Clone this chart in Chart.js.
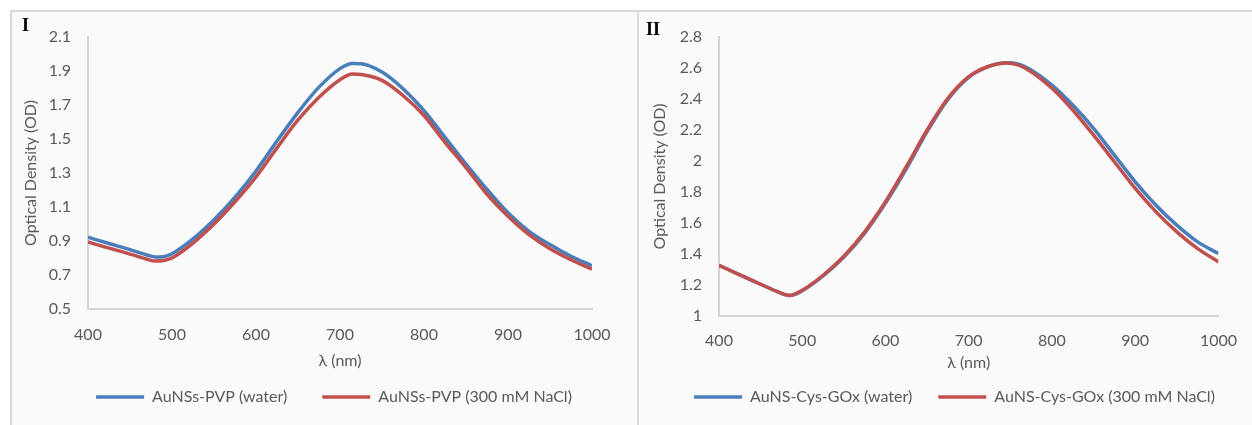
<!DOCTYPE html>
<html>
<head>
<meta charset="utf-8">
<script src="https://cdn.jsdelivr.net/npm/chart.js@4.4.1/dist/chart.umd.min.js"></script>
<style>
  html, body { margin: 0; padding: 0; background: #fff; }
  body { width: 1252px; height: 425px; overflow: hidden; position: relative; }
  .panel { position: absolute; top: 10px; height: 440px; background: #fafafa; border: 2px solid #d9d9d9; box-sizing: border-box; }
  #p1 { left: 10px; width: 629px; }
  #p2 { left: 637px; width: 640px; }
  .wrap { position: absolute; top: 0; height: 425px; }
  #w1 { left: 0; width: 637px; }
  #w2 { left: 637px; width: 615px; }
  .tag { position: absolute; font: bold 18px/18px "Liberation Serif", serif; color: #000; }
</style>
</head>
<body>
<div class="panel" id="p1"></div>
<div class="panel" id="p2"></div>
<div class="wrap" id="w1"><canvas id="chartI"></canvas></div>
<div class="wrap" id="w2"><canvas id="chartII"></canvas></div>
<div class="tag" style="left:22px;top:16px">I</div>
<div class="tag" style="left:646px;top:20px">II</div>
<script>
// panel I: AuNSs-PVP
const wavelengthI = [400, 425, 450, 470, 480, 490, 500, 525, 550, 575, 600, 625, 650, 675, 700, 715, 725, 750, 775, 800, 825, 850, 875, 900, 925, 950, 975, 1000];
const pvpWater = [0.922, 0.885, 0.849, 0.818, 0.806, 0.808, 0.825, 0.912, 1.025, 1.158, 1.312, 1.488, 1.657, 1.805, 1.914, 1.944, 1.943, 1.894, 1.796, 1.667, 1.51, 1.352, 1.204, 1.066, 0.957, 0.879, 0.81, 0.754];
const pvpNaCl = [0.894, 0.858, 0.823, 0.793, 0.782, 0.785, 0.8, 0.888, 1.0, 1.131, 1.277, 1.448, 1.612, 1.746, 1.849, 1.882, 1.88, 1.845, 1.756, 1.638, 1.48, 1.332, 1.175, 1.046, 0.938, 0.855, 0.79, 0.734];

// panel II: AuNS-Cys-GOx
const wavelengthII = [400, 425, 450, 470, 485, 500, 525, 550, 575, 600, 625, 650, 675, 700, 725, 745, 760, 775, 800, 825, 850, 875, 900, 925, 950, 975, 1000];
const cysWater = [1.327, 1.265, 1.205, 1.157, 1.132, 1.163, 1.258, 1.38, 1.535, 1.728, 1.95, 2.19, 2.398, 2.54, 2.612, 2.634, 2.625, 2.587, 2.49, 2.361, 2.21, 2.038, 1.866, 1.715, 1.586, 1.478, 1.403];
const cysNaCl = [1.327, 1.265, 1.205, 1.157, 1.132, 1.166, 1.263, 1.386, 1.543, 1.737, 1.963, 2.2, 2.404, 2.544, 2.613, 2.632, 2.618, 2.576, 2.469, 2.329, 2.167, 1.995, 1.823, 1.672, 1.543, 1.435, 1.349];

const xTicks = [400, 500, 600, 700, 800, 900, 1000];
const yTicksI = [0.5, 0.7, 0.9, 1.1, 1.3, 1.5, 1.7, 1.9, 2.1];
const yLabelsI = ["0.5", "0.7", "0.9", "1.1", "1.3", "1.5", "1.7", "1.9", "2.1"];
const yTicksII = [1, 1.2, 1.4, 1.6, 1.8, 2, 2.2, 2.4, 2.6, 2.8];
const yLabelsII = ["1", "1.2", "1.4", "1.6", "1.8", "2", "2.2", "2.4", "2.6", "2.8"];

const BLUE = "#4A7EBB";
const RED = "#C0504D";
const GREY = "#595959";
const AXIS = "#d4d4d4";
const FONT = "Lato, 'Open Sans', sans-serif";

const pts = (xs, ys) => xs.map((x, i) => ({ x, y: ys[i] }));

function render(id, o) {
  const line = (label, data, color) => ({
    label,
    data,
    borderColor: color,
    backgroundColor: color,
    borderWidth: 3.5,
    pointRadius: 0,
    cubicInterpolationMode: "monotone",
    fill: false,
  });
  const tickFont = { family: FONT, size: 16 };

  new Chart(document.getElementById(id), {
    type: "line",
    data: {
      // red first so it sits on top; legend is reversed back
      datasets: [
        line(o.names[1], pts(o.wl, o.red), RED),
        line(o.names[0], pts(o.wl, o.blue), BLUE),
      ],
    },
    options: {
      responsive: true,
      maintainAspectRatio: false,
      animation: false,
      layout: { padding: { left: o.padL, top: 37, right: 0, bottom: 10 } },
      plugins: {
        legend: {
          position: "bottom",
          reverse: true,
          labels: {
            usePointStyle: true,
            pointStyle: "line",
            pointStyleWidth: 48,
            padding: o.legendGap,
            color: GREY,
            font: { family: FONT, size: 16 },
          },
        },
        tooltip: { enabled: false },
      },
      scales: {
        x: {
          type: "linear",
          min: 400,
          max: 1000,
          afterBuildTicks: (s) => { s.ticks = xTicks.map((v) => ({ value: v })); },
          afterFit: (s) => { s.height = o.xH; },
          grid: { display: false, drawTicks: false },
          border: { color: AXIS, width: 2 },
          ticks: { padding: o.xTickPad, color: GREY, font: tickFont, maxRotation: 0, callback: (v) => String(v) },
          title: { display: true, text: "λ (nm)", color: GREY, font: tickFont, padding: { top: 0, bottom: o.xTitlePad } },
        },
        y: {
          min: o.yTicks[0],
          max: o.yTicks[o.yTicks.length - 1],
          afterBuildTicks: (s) => { s.ticks = o.yTicks.map((v) => ({ value: v })); },
          afterFit: (s) => { s.width = o.yW; },
          grid: { display: false, drawTicks: false },
          border: { color: AXIS, width: 2 },
          ticks: { padding: 17, color: GREY, font: tickFont, callback: (v, i) => o.yLabels[i] },
          title: { display: true, text: "Optical Density (OD)", color: GREY, font: tickFont, padding: { top: o.yTitlePad, bottom: 0 } },
        },
        yr: {
          position: "right",
          grid: { display: false, drawTicks: false },
          border: { display: false },
          ticks: { display: false },
          afterFit: (s) => { s.width = o.rightW; },
        },
      },
    },
  });
}

render("chartI", {
  wl: wavelengthI, blue: pvpWater, red: pvpNaCl,
  names: ["AuNSs-PVP (water)", "AuNSs-PVP (300 mM NaCl)"],
  yTicks: yTicksI, yLabels: yLabelsI,
  padL: 31, yW: 57, yTitlePad: -10, rightW: 45,
  xH: 45, xTickPad: 16, xTitlePad: -16, legendGap: 35,
});

render("chartII", {
  wl: wavelengthII, blue: cysWater, red: cysNaCl,
  names: ["AuNS-Cys-GOx (water)", "AuNS-Cys-GOx (300 mM NaCl)"],
  yTicks: yTicksII, yLabels: yLabelsII,
  padL: 20, yW: 62, yTitlePad: -7, rightW: 33,
  xH: 47, xTickPad: 15, xTitlePad: -9, legendGap: 26,
});
</script>
</body>
</html>
